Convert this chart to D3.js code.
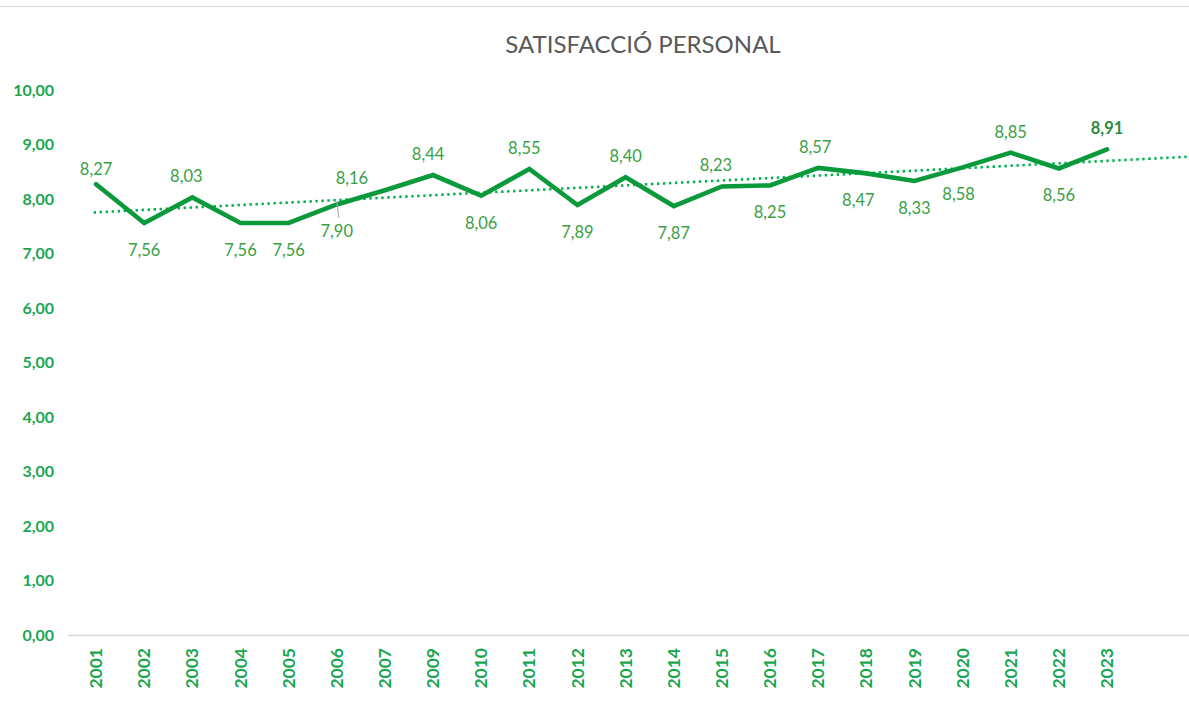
<!DOCTYPE html>
<html><head><meta charset="utf-8">
<script src="https://cdn.jsdelivr.net/npm/d3@7"></script>
<style>html,body{margin:0;padding:0;background:#fff;}svg{display:block;}</style>
</head><body>
<script>
const years = ["2001","2002","2003","2004","2005","2006","2007","2009","2010","2011","2012","2013","2014","2015","2016","2017","2018","2019","2020","2021","2022","2023"];
const values = [8.27,7.56,8.03,7.56,7.56,7.90,8.16,8.44,8.06,8.55,7.89,8.40,7.87,8.23,8.25,8.57,8.47,8.33,8.58,8.85,8.56,8.91];
const yTicks = [0,1,2,3,4,5,6,7,8,9,10];
const labelSide = ["a","b","a","b","b","b","a","a","b","a","b","a","b","a","b","a","b","b","b","a","b","a"];
const title = "SATISFACCIÓ PERSONAL";

const W = 1189, H = 701;
const svg = d3.select("body").append("svg").attr("width", W).attr("height", H);
const font = "Lato, 'Open Sans', sans-serif";
const fmt = v => v.toFixed(2).replace(".", ",");

svg.append("line").attr("x1",0).attr("x2",W).attr("y1",6.5).attr("y2",6.5).attr("stroke","#d9d9d9").attr("stroke-width",1);

svg.append("text").attr("x",643).attr("y",53).attr("text-anchor","middle")
  .attr("font-family",font).attr("font-size",24).attr("fill","#595959").text(title);

const slots = d3.range(23);
const x = d3.scaleBand().domain(slots).range([72, 72 + 23*48.14]).paddingInner(0).paddingOuter(0);
const cx = i => x(i) + x.bandwidth()/2;
const y = d3.scaleLinear().domain([0,10]).range([635,90]);

// y axis labels
const yAxis = d3.axisLeft(y).tickValues(yTicks).tickFormat(fmt).tickSize(0).tickPadding(0);
const gy = svg.append("g").attr("transform","translate(54,0)").call(yAxis);
gy.select(".domain").remove();
gy.selectAll("text").attr("font-family",font).attr("font-size",16).attr("font-weight","bold").attr("fill","#1aa550");

// x axis line
svg.append("line").attr("x1",68).attr("x2",W).attr("y1",635.5).attr("y2",635.5).attr("stroke","#d9d9d9").attr("stroke-width",1.3);

const xAxis = d3.axisBottom(x).tickFormat(i => years[i] || "").tickSize(0).tickPadding(0);
const gx = svg.append("g").attr("transform","translate(0,635)").call(xAxis);
gx.select(".domain").remove();
gx.selectAll("text").attr("font-family",font).attr("font-size",17.5).attr("font-weight","bold").attr("fill","#1aa550")
  .attr("transform","rotate(-90)").attr("text-anchor","end").attr("x",-13).attr("y",0).attr("dy","0.35em");

// trendline (least squares)
const n = values.length;
const mx = d3.mean(d3.range(n)), my = d3.mean(values);
const slope = d3.sum(d3.range(n), i => (i-mx)*(values[i]-my)) / d3.sum(d3.range(n), i => (i-mx)*(i-mx));
const icpt = my - slope*mx;
const trendPts = [-0.05, 23];
svg.append("path")
  .attr("d", d3.line().x(t => cx(0) + t*x.bandwidth()).y(t => y(icpt + slope*t))(trendPts))
  .attr("fill","none").attr("stroke","#00b050").attr("stroke-width",2.6).attr("stroke-dasharray","2.4,3.6");

// main line
svg.append("path").datum(values)
  .attr("d", d3.line().x((d,i)=>cx(i)).y(d=>y(d)))
  .attr("fill","none").attr("stroke","#0a9a3c").attr("stroke-width",4.6).attr("stroke-linejoin","miter").attr("stroke-linecap","round");

// leader line for 2006 label
svg.append("line").attr("x1",cx(5)).attr("y1",y(values[5])-3).attr("x2",cx(5)+2).attr("y2",y(values[5])+13)
  .attr("stroke","#a6a6a6").attr("stroke-width",1.2);

// data labels
const dxAdj = {2:-6, 6:-33, 7:-5, 9:-5, 13:-6, 15:-3, 16:-8, 18:-4};
const dyAbove = {0:-9, 6:-6};
svg.append("g").selectAll("text").data(values).join("text")
  .attr("x",(d,i)=>cx(i) + (dxAdj[i]||0))
  .attr("y",(d,i)=> labelSide[i]==="a" ? y(d) + (dyAbove[i] ?? -15) : y(d) + 33)
  .attr("text-anchor","middle")
  .attr("font-family",font).attr("font-size",16.5)
  .attr("font-weight",(d,i)=> i===n-1 ? "bold" : "normal")
  .attr("fill",(d,i)=> i===n-1 ? "#2e8b3e" : "#3a9f45")
  .text(d=>fmt(d));
</script>
</body></html>
